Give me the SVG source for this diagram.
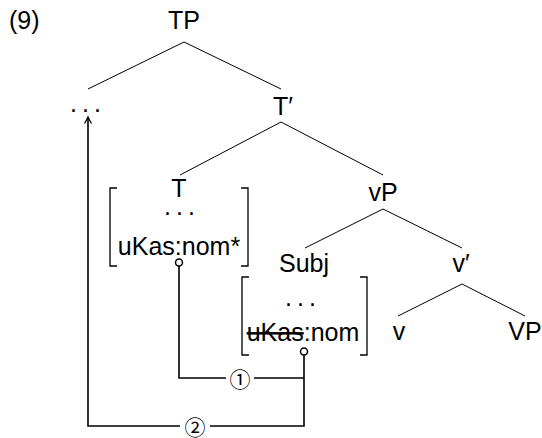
<svg xmlns="http://www.w3.org/2000/svg" width="542" height="438" viewBox="0 0 542 438">
<style>
text{font-family:"Liberation Sans","DejaVu Sans",sans-serif;font-size:25px;fill:#000}
.m{text-anchor:middle}
.dots{letter-spacing:5px}
.circ{font-family:"Noto Sans CJK JP","DejaVu Sans",sans-serif;font-size:21px;text-anchor:middle;dominant-baseline:central}
.edge{stroke:#000;stroke-width:1;fill:none}
.br{stroke:#000;stroke-width:1.3;fill:none}
.conn{stroke:#000;stroke-width:1.6;fill:none}
.hook{stroke:#000;stroke-width:1.5;fill:#fff}
</style>
<defs>
<marker id="arr" viewBox="-8 -5 10 10" refX="0" refY="0" markerWidth="10" markerHeight="10" markerUnits="userSpaceOnUse" orient="auto">
<path d="M-6.5,-3.5 Q-2.5,-1 0,0 Q-2.5,1 -6.5,3.5" stroke="#000" stroke-width="1.3" fill="none"/>
</marker>
</defs>
<text x="9" y="29">(9)</text>
<g id="edges">
<line class="edge" x1="184" y1="42" x2="88" y2="89"/>
<line class="edge" x1="184" y1="42" x2="281" y2="89"/>
<line class="edge" x1="281" y1="122" x2="180" y2="175"/>
<line class="edge" x1="281" y1="122" x2="383" y2="175"/>
<line class="edge" x1="383" y1="209" x2="305" y2="248"/>
<line class="edge" x1="383" y1="209" x2="462" y2="248"/>
<line class="edge" x1="462" y1="284" x2="398" y2="316"/>
<line class="edge" x1="462" y1="284" x2="525" y2="316"/>
</g>
<g id="TP"><text class="m" x="184" y="29">TP</text></g>
<g id="spec"><text class="m dots" x="88" y="112">...</text></g>
<g id="Tbar"><text class="m" x="283" y="115">T′</text></g>
<g id="T">
<text class="m" x="179" y="197">T</text>
<text class="m dots" x="182" y="215">...</text>
<text class="m" x="179" y="255">uKas:nom*</text>
<path class="br" d="M117,188 H110 V266 H117 M241,188 H248 V266 H241"/>
</g>
<g id="vP"><text class="m" x="383" y="201">vP</text></g>
<g id="Subj">
<text class="m" x="304" y="272">Subj</text>
<text class="m dots" x="303" y="306">...</text>
<text class="m" x="303" y="341"><tspan text-decoration="line-through">uKas</tspan>:nom</text>
<path class="br" d="M249,277 H242 V355 H249 M360,277 H367 V355 H360"/>
</g>
<g id="vbar"><text class="m" x="461" y="272">v′</text></g>
<g id="v"><text class="m" x="399" y="340">v</text></g>
<g id="VP"><text class="m" x="525" y="340">VP</text></g>
<g id="connectors">
<path class="conn" d="M179,266 V378 H226 M254,378 H304"/>
<path class="conn" d="M304,355 V426 H210 M180,426 H88 V117" marker-end="url(#arr)"/>
<circle class="hook" cx="179" cy="262.5" r="3.5"/>
<circle class="hook" cx="304" cy="351.5" r="3.5"/>
<text class="circ" x="240" y="378">①</text>
<text class="circ" x="195" y="426">②</text>
</g>
</svg>
